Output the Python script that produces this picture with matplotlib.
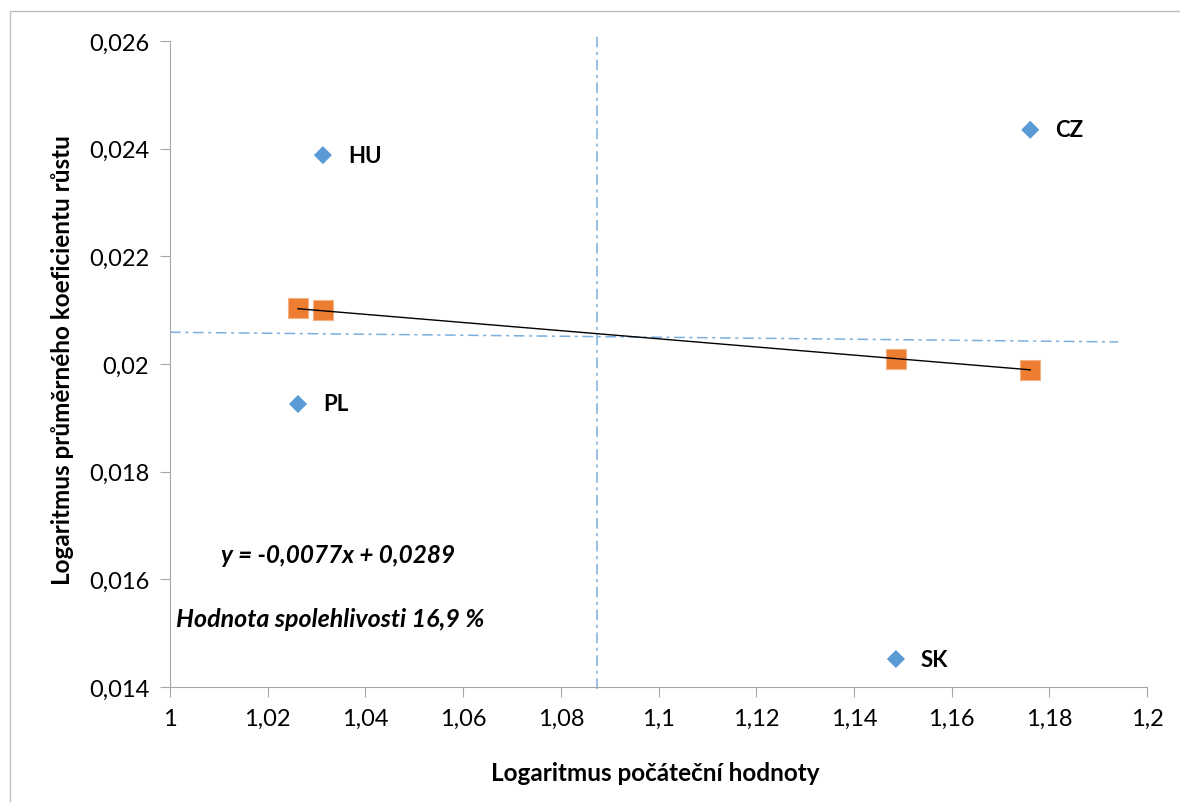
import numpy as np
import matplotlib
matplotlib.use("Agg")
import matplotlib.pyplot as plt
from matplotlib.ticker import FuncFormatter
from matplotlib.patches import Rectangle

plt.rcParams['font.family'] = ['Lato', 'DejaVu Sans']

# actual values per country
countries = ['HU', 'CZ', 'PL', 'SK']
log_start = [1.0313, 1.1761, 1.0262, 1.1486]
log_growth = [0.02388, 0.02435, 0.019257, 0.01452]

# predicted (fitted) values
pred_x = [1.0262, 1.0313, 1.1486, 1.1761]
pred_y = [0.02104, 0.02100, 0.02009, 0.01989]

# dash-dot reference lines
vline_x = 1.0874
hline_x = [1.0, 1.1941]
hline_y = [0.02059, 0.02041]

eq_text = "y = -0,0077x + 0,0289"
r2_text = "Hodnota spolehlivosti 16,9 %"

fig = plt.figure(figsize=(11.8, 8.03), dpi=100)
ax = fig.add_axes([170/1180, 1-688/803, (1147-170)/1180, (688-42)/803])

# outer chart border
fig.patches.append(Rectangle((10/1180, -0.1), 1.2, 1 - 12/803 + 0.1,
                             transform=fig.transFigure, fill=False,
                             edgecolor='#BFBFBF', linewidth=1))

blue = '#5B9BD5'
orange = '#ED7D31'
dashdot = (0, (7, 3, 2, 3))

ax.axvline(vline_x, ymin=-0.003, ymax=1.011, color=blue, lw=1.1,
           ls=dashdot, alpha=0.8, clip_on=False)
ax.plot(hline_x, hline_y, color=blue, lw=1.1, ls=dashdot, alpha=0.8)

ax.scatter(log_start, log_growth, marker='D', s=85, color=blue, zorder=3,
           edgecolors='none')
for c, x, y in zip(countries, log_start, log_growth):
    ax.annotate(c, (x, y), xytext=(18, 0), textcoords='offset points',
                va='center', ha='left', fontsize=16, fontweight='bold')

ax.scatter(pred_x, pred_y, marker='s', s=200, color=orange, zorder=3,
           edgecolors='#F4B183', linewidths=0.8)

# linear trend of the actual data
k, q = np.polyfit(log_start, log_growth, 1)
tx = np.array([min(log_start), max(log_start)])
ax.plot(tx, k * tx + q, color='black', lw=1, zorder=4)

ax.text(1.0345, 0.01647, eq_text, ha='center', va='center', fontsize=17.5,
        fontweight='bold', style='italic')
ax.text(1.0013, 0.01528, r2_text, ha='left', va='center', fontsize=18,
        fontweight='bold', style='italic')

ax.set_xlim(1.0, 1.2)
ax.set_ylim(0.014, 0.026)
ax.set_xticks(np.arange(1.0, 1.2001, 0.02))
ax.set_yticks(np.arange(0.014, 0.02601, 0.002))
fmt = FuncFormatter(lambda v, p: f"{round(v, 4):g}".replace('.', ','))
ax.xaxis.set_major_formatter(fmt)
ax.yaxis.set_major_formatter(fmt)

for s in ['top', 'right']:
    ax.spines[s].set_visible(False)
for s in ['left', 'bottom']:
    ax.spines[s].set_color('#A6A6A6')
ax.tick_params(direction='out', length=7, color='#A6A6A6', labelsize=17,
               pad=8)

ax.set_xlabel("Logaritmus počáteční hodnoty", fontsize=17.5, fontweight='bold')
ax.set_ylabel("Logaritmus průměrného koeficientu růstu", fontsize=17.5,
              fontweight='bold')
ax.xaxis.set_label_coords((655 - 170) / 977, -(762 - 688) / 646)
ax.yaxis.set_label_coords(-(170 - 74) / 977, (688 - 360) / 646)

fig.savefig("out.png", dpi=100)
